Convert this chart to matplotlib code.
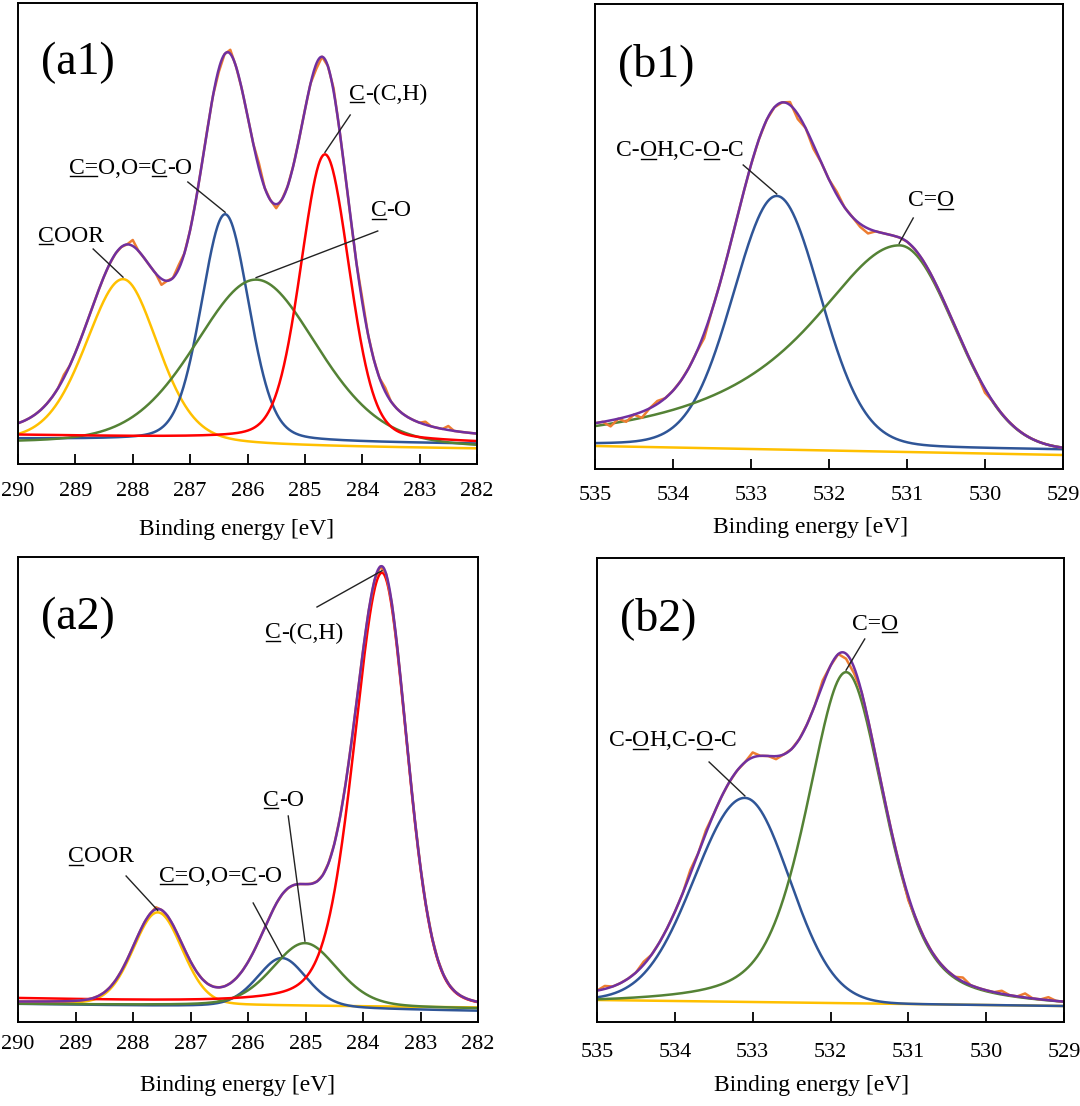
import numpy as np
import matplotlib.pyplot as plt
from matplotlib.lines import Line2D

plt.rcParams['font.family'] = ['Liberation Serif', 'DejaVu Serif']

ORANGE = '#ED7D31'
PURPLE = '#7030A0'
RED = '#FF0000'
BLUE = '#2F5597'
GREEN = '#548235'
YELLOW = '#FFC000'

# ---------------- (a1) C1s, untreated ----------------
a1_xlim = (290, 282)
a1_ylim = 461
a1_colors = [YELLOW, BLUE, GREEN, RED]
a1_center = [288.17, 286.39, 285.85, 284.65]
a1_height = [166, 227, 168, 286]
a1_fwhm_hi = [1.55, 0.98, 2.55, 1.0]
a1_fwhm_lo = [1.45, 0.98, 2.55, 1.0]
a1_mix_hi = [0.3, 0.2, 0.3, 0.2]
a1_mix_lo = [0.3, 0.2, 0.3, 0.2]
a1_base = [(20, 15), (25, 20), (19, 14), (29, 21)]
a1_bg = (25, 22)
a1_dev = [(289.2, 3), (287.95, 6), (287.45, -6), (287.2, 4), (286.5, -3),
          (286.3, 4), (285.8, 5), (285.45, -4), (284.75, -5), (284.5, 3),
          (284.0, 4), (283.55, 4), (282.9, 3), (282.5, 4)]
a1_labels = ['_COOR', '_C_=O,O=_C-O', '_C-O', '_C-(C,H)']
a1_text_xy = [(289.65, 228), (289.11, 296), (283.85, 253), (284.23, 370)]
a1_lead_from = [(288.69, 215), (287.04, 282), (283.73, 233), (284.21, 349)]

# ---------------- (b1) O1s, untreated ----------------
b1_xlim = (535, 529)
b1_ylim = 465
b1_colors = [BLUE, GREEN]
b1_center = [532.67, 531.10]
b1_height = [251, 205]
b1_fwhm_hi = [1.32, 2.9]
b1_fwhm_lo = [1.32, 1.66]
b1_mix_hi = [0.1, 1.0]
b1_mix_lo = [0.1, 0.0]
b1_base = [(24, 19), (18, 19)]
b1_bg = (19, 18)
b1_bgline = (23, 14)
b1_dev = [(534.8, -6), (534.6, -5), (534.4, -6), (534.2, 3), (533.55, -5),
          (532.5, 3), (532.35, -5), (532.2, -4), (531.9, 3), (531.6, -3),
          (531.45, -5), (530.0, -4)]
b1_labels = ['C-_OH,C-_O-C', 'C=_O']
b1_text_xy = [(534.73, 318), (530.99, 268)]
b1_lead_from = [(533.10, 304), (530.92, 251)]

# ---------------- (a2) C1s, treated ----------------
a2_xlim = (290, 282)
a2_ylim = 465
a2_colors = [YELLOW, BLUE, GREEN, RED]
a2_center = [287.57, 285.41, 285.01, 283.67]
a2_height = [92, 50, 64, 435]
a2_fwhm_hi = [1.0, 1.03, 1.35, 1.15]
a2_fwhm_lo = [1.0, 1.03, 1.35, 1.03]
a2_mix_hi = [0.1, 0.3, 0.3, 0.3]
a2_mix_lo = [0.1, 0.3, 0.3, 0.2]
a2_base = [(19, 14.5), (18, 11), (18, 13), (23, 12)]
a2_bg = (18.5, 11)
a2_dev = [(287.6, 2)]
a2_labels = ['_COOR', '_C_=O,O=_C-O', '_C-O', '_C-(C,H)']
a2_text_xy = [(289.13, 165), (287.55, 146), (285.74, 222), (285.70, 389)]
a2_lead_from = [(288.12, 146), (285.91, 119), (285.30, 206), (284.80, 415)]

# ---------------- (b2) O1s, treated ----------------
b2_xlim = (535, 529)
b2_ylim = 464
b2_colors = [BLUE, GREEN]
b2_center = [533.10, 531.80]
b2_height = [204, 335]
b2_fwhm_hi = [1.52, 1.2]
b2_fwhm_lo = [1.35, 1.2]
b2_mix_hi = [0.0, 0.5]
b2_mix_lo = [0.0, 0.5]
b2_base = [(22, 16), (17, 13)]
b2_bg = (23, 13)
b2_bgline = (22, 16)
b2_dev = [(534.9, 3), (534.4, 3), (533.8, 4), (533.55, 3), (533.0, 5),
          (532.7, -3), (532.1, 4), (531.8, -5), (531.7, -6), (531.0, -4),
          (530.3, 4), (529.8, 3), (529.5, 4), (529.2, 3)]
b2_labels = ['C-_OH,C-_O-C', 'C=_O']
b2_text_xy = [(534.85, 281), (531.72, 398)]
b2_lead_from = [(533.56, 260), (531.56, 383)]


def pv(e, c, h, w_hi, w_lo, m_hi, m_lo):
    w = np.where(e >= c, w_hi, w_lo)
    m = np.where(e >= c, m_hi, m_lo)
    x = (e - c) / w
    g = np.exp(-4 * np.log(2) * x ** 2)
    l = 1 / (1 + 4 * x ** 2)
    return h * ((1 - m) * g + m * l)


def lin(e, xlim, ends):
    f = (xlim[0] - e) / (xlim[0] - xlim[1])
    return ends[0] + (ends[1] - ends[0]) * f


underlined = []


def put_label(ax, x, y, markup):
    segs = []
    flag = False
    for ch in markup:
        if ch == '_':
            flag = True
            continue
        if segs and segs[-1][1] == flag:
            segs[-1][0] += ch
        else:
            segs.append([ch, flag])
        flag = False
    prev = None
    for s, u in segs:
        if prev is None:
            t = ax.text(x, y, s, fontsize=17, ha='left', va='center')
        else:
            t = ax.annotate(s, xy=(1, 0.5), xycoords=prev, fontsize=17,
                            ha='left', va='center')
        if u:
            underlined.append(t)
        prev = t


def panel(rect, tag, xlim, ylim, colors, center, height, fw_hi, fw_lo,
          mix_hi, mix_lo, base, bg, dev, labels, text_xy, lead_from,
          bgline=None, tickpad=8, lab_x=0.477, lab_y=64):
    ax = fig.add_axes(rect)
    e = np.linspace(xlim[0], xlim[1], 800)
    env = lin(e, xlim, bg)
    if bgline is not None:
        ax.plot(e, lin(e, xlim, bgline), color=YELLOW, lw=1.8)
    for i in range(len(center)):
        p = pv(e, center[i], height[i], fw_hi[i], fw_lo[i], mix_hi[i], mix_lo[i])
        ax.plot(e, lin(e, xlim, base[i]) + p, color=colors[i], lw=1.8)
        env = env + p
    # measured spectrum = fitted envelope + residual wiggles
    er = np.arange(xlim[0], xlim[1] - 0.001, -0.1)
    raw = lin(er, xlim, bg)
    for i in range(len(center)):
        raw = raw + pv(er, center[i], height[i], fw_hi[i], fw_lo[i], mix_hi[i], mix_lo[i])
    for ed, d in dev:
        raw[np.argmin(np.abs(er - ed))] += d
    ax.plot(er, raw, color=ORANGE, lw=1.8)
    ax.plot(e, env, color=PURPLE, lw=1.8)

    for i in range(len(labels)):
        tx, ty = text_xy[i]
        put_label(ax, tx, ty, labels[i])
        c = center[i]
        top = lin(c, xlim, base[i]) + height[i]
        lx, ly = lead_from[i]
        ax.plot([lx, c], [ly, top + 2], color='#222222', lw=1.0)

    ax.text(0.05, 0.87, tag, transform=ax.transAxes, fontsize=33,
            ha='left', va='center')
    ax.set_xlim(xlim)
    ax.set_ylim(0, ylim)
    ax.set_yticks([])
    ticks = list(range(int(xlim[0]), int(xlim[1]) - 1, -1))
    ax.set_xticks(ticks)
    ax.set_xticklabels([str(t) for t in ticks])
    ax.tick_params(axis='x', direction='in', length=7, width=1.3,
                   labelsize=16, pad=tickpad)
    for s in ax.spines.values():
        s.set_linewidth(1.4)
    ax.set_xlabel('Binding energy [eV]', fontsize=17)
    hpx = rect[3] * fig.get_figheight() * fig.dpi
    ax.xaxis.set_label_coords(lab_x, -lab_y / hpx)
    ax.xaxis.label.set_verticalalignment('center')
    return ax


fig = plt.figure(figsize=(10.8, 11.06), dpi=100)

panel([18 / 1080, 1 - 464 / 1106, 459 / 1080, 461 / 1106], '(a1)', a1_xlim, a1_ylim,
      a1_colors, a1_center, a1_height, a1_fwhm_hi, a1_fwhm_lo, a1_mix_hi, a1_mix_lo,
      a1_base, a1_bg, a1_dev, a1_labels, a1_text_xy, a1_lead_from,
      tickpad=13, lab_x=0.477, lab_y=65)
panel([595 / 1080, 1 - 469 / 1106, 468 / 1080, 465 / 1106], '(b1)', b1_xlim, b1_ylim,
      b1_colors, b1_center, b1_height, b1_fwhm_hi, b1_fwhm_lo, b1_mix_hi, b1_mix_lo,
      b1_base, b1_bg, b1_dev, b1_labels, b1_text_xy, b1_lead_from,
      bgline=b1_bgline, tickpad=12.5, lab_x=0.46, lab_y=59)
panel([18 / 1080, 1 - 1022 / 1106, 460 / 1080, 465 / 1106], '(a2)', a2_xlim, a2_ylim,
      a2_colors, a2_center, a2_height, a2_fwhm_hi, a2_fwhm_lo, a2_mix_hi, a2_mix_lo,
      a2_base, a2_bg, a2_dev, a2_labels, a2_text_xy, a2_lead_from,
      tickpad=9.5, lab_x=0.478, lab_y=64)
panel([597 / 1080, 1 - 1022 / 1106, 467 / 1080, 464 / 1106], '(b2)', b2_xlim, b2_ylim,
      b2_colors, b2_center, b2_height, b2_fwhm_hi, b2_fwhm_lo, b2_mix_hi, b2_mix_lo,
      b2_base, b2_bg, b2_dev, b2_labels, b2_text_xy, b2_lead_from,
      bgline=b2_bgline, tickpad=15, lab_x=0.46, lab_y=64)

# underline the marked atoms
fig.canvas.draw()
r = fig.canvas.get_renderer()
inv = fig.transFigure.inverted()
for t in underlined:
    bb = t.get_window_extent(r)
    y = bb.y0 + 0.12 * bb.height
    (x0, y0), (x1, _) = inv.transform([(bb.x0 + 1, y), (bb.x1 - 1, y)])
    fig.add_artist(Line2D([x0, x1], [y0, y0], color='black', lw=1.0))

fig.savefig('out.png', dpi=100)
